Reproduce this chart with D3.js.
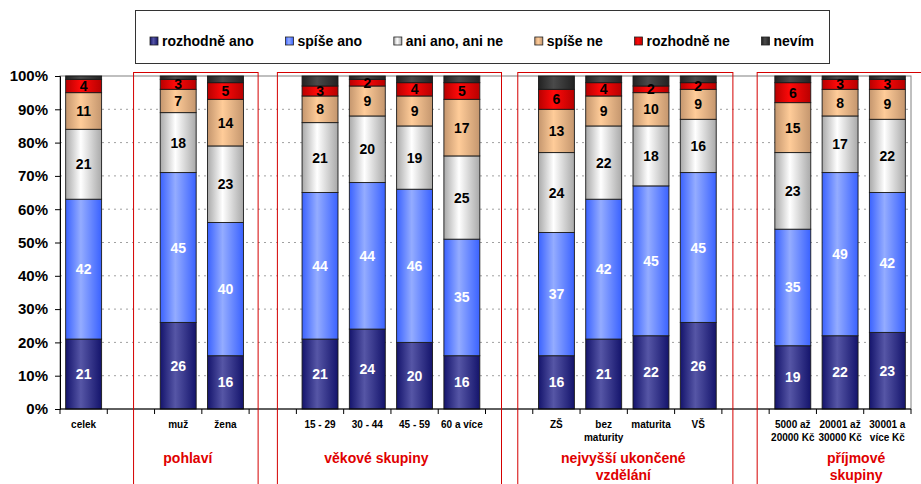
<!DOCTYPE html>
<html>
<head>
<meta charset="utf-8">
<script src="https://cdn.jsdelivr.net/npm/d3@7"></script>
<style>
  body { margin: 0; background: #fff; }
  svg { display: block; font-family: 'Liberation Sans', Arial, sans-serif; }
</style>
</head>
<body>
<svg id="chart" width="921" height="484"></svg>
<script>
// Categories in drawing order ('\n' breaks a label in two lines)
const categories = ['celek', 'muž', 'žena', '15 - 29', '30 - 44', '45 - 59', '60 a více',
  'ZŠ', 'bez\nmaturity', 'maturita', 'VŠ', '5000 až\n20000 Kč', '20001 až\n30000 Kč', '30001 a\nvíce Kč']

// Groups of categories, an empty slot is left between two groups
const groupNames = ['', 'pohlaví', 'věkové skupiny', 'nejvyšší ukončené\nvzdělání', 'příjmové\nskupiny']
const groupSizes = [1, 2, 4, 4, 3]

const seriesNames = ['rozhodně ano', 'spíše ano', 'ani ano, ani ne', 'spíše ne', 'rozhodně ne', 'nevím']
const rozhodneAno = [21, 26, 16, 21, 24, 20, 16, 16, 21, 22, 26, 19, 22, 23]
const spiseAno = [42, 45, 40, 44, 44, 46, 35, 37, 42, 45, 45, 35, 49, 42]
const aniAniNe = [21, 18, 23, 21, 20, 19, 25, 24, 22, 18, 16, 23, 17, 22]
const spiseNe = [11, 7, 14, 8, 9, 9, 17, 13, 9, 10, 9, 15, 8, 9]
const rozhodneNe = [4, 3, 5, 3, 2, 4, 5, 6, 4, 2, 2, 6, 3, 3]
const nevim = [1, 1, 2, 3, 1, 2, 2, 4, 2, 3, 2, 2, 1, 1]

const yTicks = [0, 10, 20, 30, 40, 50, 60, 70, 80, 90, 100]

// Look of each series: edge colour, centre colour, label colour
const looks = [
  { dark: '#14146c', light: '#5656a6', label: '#fff' },
  { dark: '#3a62ff', light: '#94acff', label: '#fff' },
  { dark: '#a9a9a9', light: '#ffffff', label: '#000' },
  { dark: '#c4966e', light: '#ffcc99', label: '#000' },
  { dark: '#b80000', light: '#ff0a0a', label: '#000' },
  { dark: '#222222', light: '#4a4a4a', label: null }
]

// The red frames are drawn by hand in the original: how far each one reaches
// past its slots (left, right) and how much its title is moved sideways
const frameLook = [
  { left: 21, right: 9, dx: -8 },
  { left: 19, right: 16, dx: -13 },
  { left: 15, right: 11, dx: -2 },
  { left: 12, right: 20, dx: 12 }
]

const svg = d3.select('#chart')
const plot = { left: 60, right: 911, top: 76, bottom: 409 }

// Putting every category on a slot, with empty slots between groups.
const slotOf = []
const groups = []
let slot = 0
let c = 0
groupSizes.forEach((size, g) => {
  if (g > 0) slot++
  const first = slot
  for (let k = 0; k < size; k++) slotOf[c++] = slot++
  groups.push({ name: groupNames[g], first: first, last: slot - 1 })
})

const x = d3.scaleBand()
  .domain(d3.range(slot))
  .range([plot.left, plot.right])
  .paddingInner(0.24)
  .paddingOuter(0.12)

const y = d3.scaleLinear().domain([0, 100]).range([plot.bottom, plot.top])

// Left edge of a slot (the band plus its share of padding)
const slotLeft = s => plot.left + s * x.step()

const rows = categories.map((name, i) => ({
  name: name,
  slot: slotOf[i],
  values: [rozhodneAno[i], spiseAno[i], aniAniNe[i], spiseNe[i], rozhodneNe[i], nevim[i]]
}))

const stack = d3.stack()
  .keys(d3.range(seriesNames.length))
  .value((d, k) => d.values[k])
const layers = stack(rows)

// Gradients across the bar width
const defs = svg.append('defs')
looks.forEach((l, k) => {
  const grad = defs.append('linearGradient')
    .attr('id', 'grad' + k)
    .attr('x1', 0).attr('x2', 1).attr('y1', 0).attr('y2', 0)
  grad.append('stop').attr('offset', '0%').attr('stop-color', l.dark)
  grad.append('stop').attr('offset', '42%').attr('stop-color', l.light)
  grad.append('stop').attr('offset', '100%').attr('stop-color', l.dark)
})

// Dotted gridlines
svg.append('g')
  .selectAll('line')
  .data(yTicks.slice(1, -1))
  .join('line')
  .attr('x1', plot.left)
  .attr('x2', plot.right)
  .attr('y1', d => y(d))
  .attr('y2', d => y(d))
  .attr('stroke', '#a0a0a0')
  .attr('stroke-dasharray', '2,4')

// Plot frame
svg.append('rect')
  .attr('x', plot.left)
  .attr('y', plot.top)
  .attr('width', plot.right - plot.left)
  .attr('height', plot.bottom - plot.top)
  .attr('fill', 'none')
  .attr('stroke', '#808080')

// Stacked bars
const layer = svg.append('g')
  .selectAll('g')
  .data(layers)
  .join('g')
  .attr('fill', d => 'url(#grad' + d.key + ')')

layer.selectAll('rect')
  .data(d => d)
  .join('rect')
  .attr('x', d => x(d.data.slot))
  .attr('width', x.bandwidth())
  .attr('y', d => y(d[1]))
  .attr('height', d => y(d[0]) - y(d[1]))
  .attr('stroke', '#1a1a1a')
  .attr('stroke-width', 0.9)

// Values inside the segments
layers.forEach(l => {
  const color = looks[l.key].label
  if (!color) return
  svg.append('g')
    .selectAll('text')
    .data(l)
    .join('text')
    .attr('x', d => x(d.data.slot) + x.bandwidth() / 2)
    .attr('y', d => y((d[0] + d[1]) / 2))
    .attr('dy', '0.36em')
    .attr('text-anchor', 'middle')
    .attr('fill', color)
    .style('font-size', '14px')
    .style('font-weight', 'bold')
    .text(d => d.data.values[l.key])
})

// Y axis
const yAxis = svg.append('g')
  .attr('transform', 'translate(' + plot.left + ',0)')
  .call(d3.axisLeft(y).tickValues(yTicks).tickFormat(d => d + '%').tickSize(5).tickPadding(7))
yAxis.selectAll('text')
  .style('font-size', '15px')
  .style('font-weight', 'bold')
  .style('font-family', "'Liberation Sans', Arial, sans-serif")
  .attr('fill', '#000')

// X axis: ticks between the slots
const xAxis = svg.append('g')
xAxis.append('line')
  .attr('x1', plot.left).attr('x2', plot.right)
  .attr('y1', plot.bottom).attr('y2', plot.bottom)
  .attr('stroke', '#000')
xAxis.selectAll('.tick')
  .data(d3.range(slot + 1))
  .join('line')
  .attr('x1', d => slotLeft(d))
  .attr('x2', d => slotLeft(d))
  .attr('y1', plot.bottom)
  .attr('y2', plot.bottom + 5)
  .attr('stroke', '#000')

// Category labels
const catLabels = svg.append('g')
  .selectAll('text')
  .data(rows)
  .join('text')
  .attr('x', d => x(d.slot) + x.bandwidth() / 2)
  .attr('y', 428)
  .attr('text-anchor', 'middle')
  .style('font-size', '10px')
  .style('font-weight', 'bold')
catLabels.selectAll('tspan')
  .data(d => d.name.split('\n'))
  .join('tspan')
  .attr('x', function () { return d3.select(this.parentNode).attr('x') })
  .attr('dy', (d, i) => i ? 13 : 0)
  .text(d => d)

// Red frames round the groups and their names
const named = groups.filter(g => g.name)
named.forEach((g, i) => {
  g.x0 = slotLeft(g.first) - frameLook[i].left
  g.x1 = slotLeft(g.last + 1) + frameLook[i].right
  g.mid = (g.x0 + g.x1) / 2 + frameLook[i].dx
})

svg.append('g')
  .selectAll('rect')
  .data(named)
  .join('rect')
  .attr('x', g => g.x0)
  .attr('y', 72.5)
  .attr('width', g => g.x1 - g.x0)
  .attr('height', 430)
  .attr('fill', 'none')
  .attr('stroke', '#d40000')

const groupLabels = svg.append('g')
  .selectAll('text')
  .data(named)
  .join('text')
  .attr('x', g => g.mid)
  .attr('y', 463)
  .attr('text-anchor', 'middle')
  .attr('fill', '#e00000')
  .style('font-size', '14px')
  .style('font-weight', 'bold')
groupLabels.selectAll('tspan')
  .data(g => g.name.split('\n'))
  .join('tspan')
  .attr('x', function () { return d3.select(this.parentNode).attr('x') })
  .attr('dy', (d, i) => i ? 17 : 0)
  .text(d => d)

// Legend
const legendBox = { x: 135, y: 10, w: 694, h: 53 }
const legend = svg.append('g')
legend.append('rect')
  .attr('x', legendBox.x + 0.5)
  .attr('y', legendBox.y + 0.5)
  .attr('width', legendBox.w)
  .attr('height', legendBox.h)
  .attr('fill', '#fff')
  .attr('stroke', '#333')

const items = legend.selectAll('g')
  .data(seriesNames)
  .join('g')
items.append('rect')
  .attr('width', 8)
  .attr('height', 8)
  .attr('y', 37)
  .attr('fill', (d, k) => 'url(#grad' + k + ')')
  .attr('stroke', '#222')
  .attr('stroke-width', 0.8)
items.append('text')
  .attr('x', 12)
  .attr('y', 46)
  .style('font-size', '14px')
  .style('font-weight', 'bold')
  .text(d => d)

// Spreading the items evenly in the legend box
const widths = items.nodes().map(n => 12 + n.querySelector('text').getComputedTextLength())
const pad = 15
const gap = (legendBox.w - 2 * pad - d3.sum(widths)) / (widths.length - 1)
let pos = legendBox.x + pad
items.attr('transform', (d, k) => {
  const t = 'translate(' + pos + ',0)'
  pos += widths[k] + gap
  return t
})
</script>
</body>
</html>
